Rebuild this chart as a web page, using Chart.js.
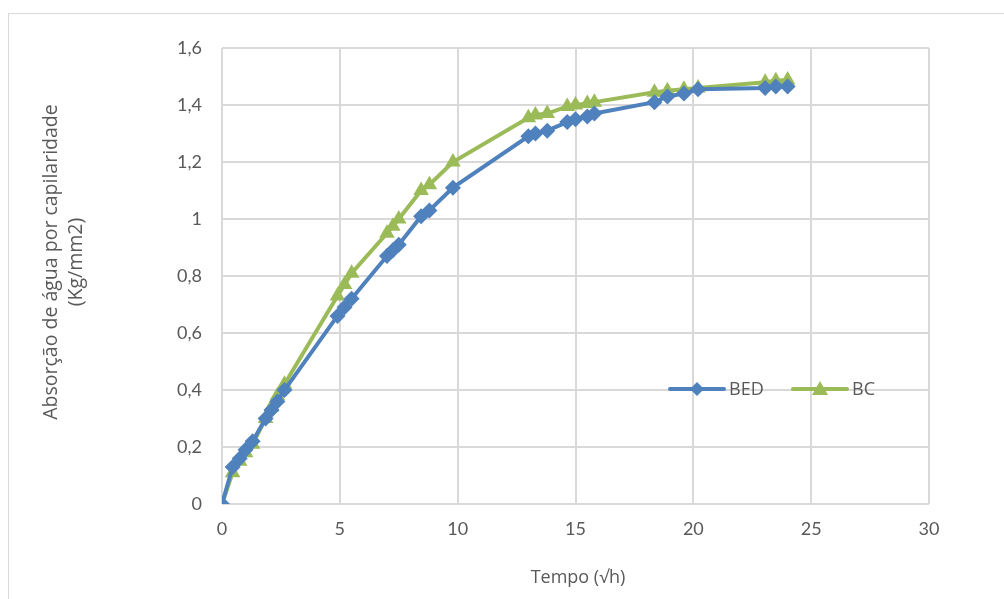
<!DOCTYPE html>
<html>
<head>
<meta charset="utf-8">
<script src="https://cdn.jsdelivr.net/npm/chart.js@4"></script>
<style>
  body { margin: 0; background: #fff; }
  #wrap { position: absolute; left: 0; top: 0; width: 1004px; height: 599px; }
  #frame { position: absolute; left: 8px; top: 13px; width: 1010px; height: 600px; border: 1px solid #d9d9d9; box-sizing: border-box; }
</style>
</head>
<body>
<div id="wrap">
  <div id="frame"></div>
  <canvas id="chart" width="1004" height="599"></canvas>
</div>
<script>
var tempo = [0, 0.45, 0.75, 1.0, 1.3, 1.85, 2.1, 2.35, 2.65, 4.9, 5.2, 5.5, 7.0, 7.25, 7.5, 8.45, 8.8, 9.8, 13.0, 13.3, 13.8, 14.65, 15.0, 15.5, 15.8, 18.35, 18.9, 19.6, 20.2, 23.05, 23.5, 24.0];
var bed = [0, 0.13, 0.16, 0.19, 0.22, 0.30, 0.33, 0.36, 0.40, 0.66, 0.69, 0.72, 0.87, 0.89, 0.91, 1.01, 1.03, 1.11, 1.29, 1.30, 1.31, 1.34, 1.35, 1.36, 1.37, 1.41, 1.43, 1.44, 1.455, 1.46, 1.465, 1.465];
var bc = [0, 0.11, 0.15, 0.18, 0.21, 0.30, 0.34, 0.38, 0.42, 0.73, 0.77, 0.81, 0.95, 0.975, 1.0, 1.10, 1.12, 1.20, 1.355, 1.365, 1.37, 1.395, 1.40, 1.405, 1.41, 1.445, 1.45, 1.455, 1.46, 1.48, 1.485, 1.488];
var seriesNames = ["BED", "BC"];
var yTitle = ["Absorção de água por capilaridade", "(Kg/mm2)"];
var xTitle = "Tempo (√h)";

var textColor = "#595959";
var gridColor = "#d9d9d9";
var tickFont = "Lato, 'Liberation Sans', sans-serif";
var titleFont = "'Open Sans', 'DejaVu Sans', sans-serif";

function toPoints(xs, ys) {
    var pts = [];
    for (var i = 0; i < xs.length; i++) {
        pts.push({ x: xs[i], y: ys[i] });
    }
    return pts;
}

// axis titles and legend, drawn where the original has them
var chartText = {
    id: "chartText",
    afterDraw: function (chart) {
        var ctx = chart.ctx;
        ctx.save();
        ctx.fillStyle = textColor;
        ctx.textAlign = "center";
        ctx.textBaseline = "middle";

        ctx.font = "18px " + titleFont;
        ctx.fillText(xTitle, 578, 578);

        ctx.save();
        ctx.translate(0, 262);
        ctx.rotate(-Math.PI / 2);
        ctx.font = "19.5px " + titleFont;
        ctx.fillText(yTitle[0], 0, 51);
        ctx.fillText(yTitle[1], 0, 76);
        ctx.restore();

        var y = 389;
        var starts = [670, 793];
        chart.data.datasets.forEach(function (ds, i) {
            var x0 = starts[i];
            ctx.strokeStyle = ds.borderColor;
            ctx.lineWidth = 4;
            ctx.lineCap = "round";
            ctx.beginPath();
            ctx.moveTo(x0, y);
            ctx.lineTo(x0 + 54, y);
            ctx.stroke();
            ctx.fillStyle = ds.backgroundColor;
            ctx.beginPath();
            var cx = x0 + 27;
            if (ds.pointStyle === "rectRot") {
                ctx.moveTo(cx, y - 7);
                ctx.lineTo(cx + 7, y);
                ctx.lineTo(cx, y + 7);
                ctx.lineTo(cx - 7, y);
            } else {
                ctx.moveTo(cx, y - 8);
                ctx.lineTo(cx + 8, y + 6);
                ctx.lineTo(cx - 8, y + 6);
            }
            ctx.closePath();
            ctx.fill();
            ctx.fillStyle = textColor;
            ctx.font = "18px " + titleFont;
            ctx.textAlign = "left";
            ctx.fillText(ds.label, x0 + 59, y + 1);
        });
        ctx.restore();
    }
};

var ctx = document.getElementById("chart").getContext("2d");
var myChart = new Chart(ctx, {
    type: "scatter",
    data: {
        datasets: [
            {
                label: seriesNames[0],
                data: toPoints(tempo, bed),
                showLine: true,
                borderColor: "#4f81bd",
                backgroundColor: "#4f81bd",
                borderWidth: 4,
                pointStyle: "rectRot",
                pointRadius: 8,
                pointBorderWidth: 0,
                tension: 0,
            },
            {
                label: seriesNames[1],
                data: toPoints(tempo, bc),
                showLine: true,
                borderColor: "#9bbb59",
                backgroundColor: "#9bbb59",
                borderWidth: 4,
                pointStyle: "triangle",
                pointRadius: 9,
                pointBorderWidth: 0,
                tension: 0,
            },
        ],
    },
    options: {
        responsive: false,
        animation: false,
        layout: { padding: { left: 0, right: 75, top: 48, bottom: 0 } },
        plugins: {
            legend: { display: false },
            tooltip: { enabled: false },
        },
        scales: {
            x: {
                type: "linear",
                min: 0,
                max: 30,
                ticks: {
                    stepSize: 5,
                    color: textColor,
                    padding: 14,
                    font: { family: tickFont, size: 18 },
                },
                grid: { color: gridColor, lineWidth: 2, drawTicks: false },
                border: { display: false },
                afterFit: function (scale) {
                    scale.height = 95;
                },
            },
            y: {
                min: 0,
                max: 1.6,
                ticks: {
                    stepSize: 0.2,
                    color: textColor,
                    padding: 20,
                    font: { family: tickFont, size: 18 },
                    callback: function (v) {
                        return String(Math.round(v * 10) / 10).replace(".", ",");
                    },
                },
                grid: { color: gridColor, lineWidth: 2, drawTicks: false },
                border: { display: false },
                afterFit: function (scale) {
                    scale.width = 222;
                },
            },
        },
    },
    plugins: [chartText],
});
</script>
</body>
</html>
